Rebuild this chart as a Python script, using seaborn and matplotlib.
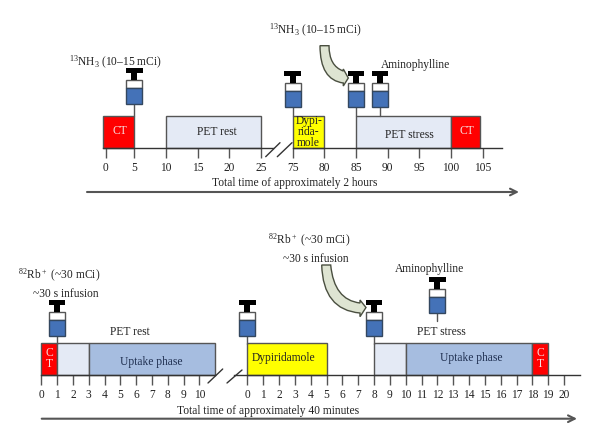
import matplotlib
matplotlib.use("Agg")
import matplotlib.pyplot as plt
import seaborn as sns
from matplotlib.path import Path
from matplotlib.patches import PathPatch, Rectangle


# 1. Data (minutes)
TOP_REST_START = [0, 10]
TOP_REST_END = [5, 25]
TOP_REST_COLOR = ["#FF0000", "#E4EAF5"]
TOP_REST_TICKS = [0.45, 5, 10, 15, 20, 25]
TOP_REST_LABELS = ["0", "5", "10", "15", "20", "25"]

TOP_STRESS_START = [75, 85, 100]
TOP_STRESS_END = [80, 100, 104.6]
TOP_STRESS_COLOR = ["#FFFF00", "#E4EAF5", "#FF0000"]
TOP_STRESS_TICKS = [75, 80, 85, 90, 95, 100, 105]

BOT_REST_START = [0, 1, 3]
BOT_REST_END = [1, 3, 11]
BOT_REST_COLOR = ["#FF0000", "#E4EAF5", "#A6BDE0"]
BOT_REST_TICKS = list(range(0, 11))

BOT_STRESS_START = [0, 8, 10, 18]
BOT_STRESS_END = [5, 10, 18, 19]
BOT_STRESS_COLOR = ["#FFFF00", "#E4EAF5", "#A6BDE0", "#FF0000"]
BOT_STRESS_TICKS = list(range(0, 21))

# syringe time, barrel top (px), needle end (px)
TOP_REST_SYRINGE = [(5, 80, 116)]
TOP_STRESS_SYRINGE = [(75, 83, 116), (85, 83, 116), (88.8, 83, 116)]
BOT_REST_SYRINGE = [(1, 312, 344)]
BOT_STRESS_SYRINGE = [(0, 312, 344), (8, 312, 344), (12, 289, 321)]

DARK = "#555555"
TEXT = "#222222"
W, H = 600, 443


sns.set_theme(style="white", font="Liberation Serif")
plt.rcParams["mathtext.fontset"] = "custom"
plt.rcParams["mathtext.rm"] = "Liberation Serif"
plt.rcParams["mathtext.default"] = "rm"

fig = plt.figure(figsize=(W / 100, H / 100), dpi=100)


# 2. Timeline segments: bottom spine is the time axis
def segment(px_left, px_right, base, t_ref, px_ref, rate, starts, ends, colors, ticks, labels=None):
    ax = fig.add_axes([px_left / W, 1 - base / H, (px_right - px_left) / W, 32 / H])
    ax.patch.set_alpha(0)
    for s, e, c in zip(starts, ends, colors):
        sns.barplot(x=[e - s], y=[0.5], orient="h", native_scale=True, left=s, width=1,
                    color=c, saturation=1, edgecolor=DARK, linewidth=1, ax=ax)
    for p in ax.patches:
        p.set_clip_on(False)
    ax.set_xlim(t_ref + (px_left - px_ref) / rate, t_ref + (px_right - px_ref) / rate)
    ax.set_ylim(0, 1)
    ax.set_yticks([])
    ax.set_xticks(ticks)
    ax.set_xticklabels(labels if labels else [str(t) for t in ticks])
    ax.tick_params(axis="x", bottom=True, length=7.2, width=1, color=DARK, pad=3, labelsize=8.3, labelcolor=TEXT)
    sns.despine(ax=ax, left=True)
    ax.spines["bottom"].set_color("#333333")
    ax.spines["bottom"].set_linewidth(1)
    ax.set_xlabel("")
    ax.set_ylabel("")
    return lambda t: px_ref + (t - t_ref) * rate


top_rest_x = segment(103, 273, 148, 25, 261, 6.33, TOP_REST_START, TOP_REST_END, TOP_REST_COLOR,
                     TOP_REST_TICKS, TOP_REST_LABELS)
top_stress_x = segment(292.7, 502, 148, 75, 292.7, 6.33, TOP_STRESS_START, TOP_STRESS_END, TOP_STRESS_COLOR,
                       TOP_STRESS_TICKS)
bot_rest_x = segment(41.3, 215, 375, 0, 41.3, 15.8, BOT_REST_START, BOT_REST_END, BOT_REST_COLOR,
                     BOT_REST_TICKS)
bot_stress_x = segment(234, 580, 375, 0, 247.3, 15.84, BOT_STRESS_START, BOT_STRESS_END, BOT_STRESS_COLOR,
                       BOT_STRESS_TICKS)


# 3. Canvas in pixels for syringes, labels and arrows
canvas = fig.add_axes([0, 0, 1, 1])
canvas.set_xlim(0, W)
canvas.set_ylim(H, 0)
canvas.axis("off")
canvas.patch.set_alpha(0)


def syringe(x, top, needle_end):
    canvas.plot([x, x], [top + 24, needle_end], color=DARK, lw=1, zorder=3)
    canvas.add_patch(Rectangle((x - 8, top), 16, 8, fc="white", ec=DARK, lw=1, zorder=4))
    canvas.add_patch(Rectangle((x - 8, top + 8), 16, 16, fc="#4472B8", ec="#33475F", lw=1, zorder=4))
    canvas.add_patch(Rectangle((x - 3, top - 8), 6, 8, fc="black", ec="none", zorder=4))
    canvas.add_patch(Rectangle((x - 8.3, top - 12), 16.6, 5, fc="black", ec="none", zorder=4))


for mapper, items in [(top_rest_x, TOP_REST_SYRINGE), (top_stress_x, TOP_STRESS_SYRINGE),
                      (bot_rest_x, BOT_REST_SYRINGE), (bot_stress_x, BOT_STRESS_SYRINGE)]:
    for t, top, end in items:
        syringe(mapper(t), top, end)


def label(x, y, s, color=TEXT, size=8.3, ha="center"):
    canvas.text(x, y, s, color=color, fontsize=size, ha=ha, va="center", zorder=5)


NH3 = r"$^{13}$NH$_3$ (10–15 mCi)"
RB = r"$^{82}$Rb$^+$ (~30 mCi)"

label(115.5, 62, NH3)
label(315.5, 30, NH3)
label(415.5, 65, "Aminophylline")
label(120, 131, "CT", "#F5E0E0")
label(217, 132, "PET rest")
label(308.7, 121, "Dypi-")
label(308.7, 132, "rida-")
label(308.7, 143, "mole")
label(409, 135, "PET stress")
label(466.7, 131, "CT", "#F5E0E0")
label(295, 183, "Total time of approximately 2 hours")

label(59, 275, RB)
label(66, 294, "~30 s infusion")
label(130, 332, "PET rest")
label(49, 353, "C", "#F5E0E0")
label(49, 364, "T", "#F5E0E0")
label(151, 362.5, "Uptake phase", "#1F2F50")
label(284, 358, "Dypiridamole")
label(309, 240, RB)
label(315.5, 259, "~30 s infusion")
label(430, 269, "Aminophylline")
label(441, 332, "PET stress")
label(471.7, 358, "Uptake phase", "#1F2F50")
label(540.5, 353, "C", "#F5E0E0")
label(540.5, 364, "T", "#F5E0E0")
label(268, 410.7, "Total time of approximately 40 minutes")

# break marks on the time axes
for x0, x1, y0, y1 in [(265.7, 280, 156.7, 142.7), (277.3, 292, 156.7, 142.7),
                       (208, 222.7, 383, 369), (227, 242, 383, 370)]:
    canvas.plot([x0, x1], [y0, y1], color="#333333", lw=1, zorder=3)

# total time arrows
for x0, x1, y in [(87, 519, 192), (41.7, 577, 418.7)]:
    canvas.annotate("", xy=(x1, y), xytext=(x0, y),
                    arrowprops=dict(arrowstyle="->", color="#555555", lw=1.5, shrinkA=0, shrinkB=0))


# curved block arrows into the stress syringes
def block_arrow(upper0, ctrl_up, upper1, lower1, ctrl_low, lower0, head_top, tip, head_bot):
    verts = [upper0, ctrl_up, upper1, head_top, tip, head_bot, lower1, ctrl_low, lower0, upper0]
    codes = [Path.MOVETO, Path.CURVE3, Path.CURVE3, Path.LINETO, Path.LINETO, Path.LINETO,
             Path.LINETO, Path.CURVE3, Path.CURVE3, Path.CLOSEPOLY]
    canvas.add_patch(PathPatch(Path(verts, codes), fc="#DEE4D2", ec="#4A4F40", lw=1, zorder=6))


block_arrow((329, 45.7), (329, 66), (343.3, 71), (343.3, 83), (320, 80), (320, 45.7),
            (343.3, 69), (348.3, 78), (343.3, 86))
block_arrow((330.7, 265), (334, 300), (360, 303), (360, 313), (323, 310), (321.7, 265),
            (360, 300), (366, 307.5), (360, 316.7))

fig.savefig("out.png", dpi=100)
